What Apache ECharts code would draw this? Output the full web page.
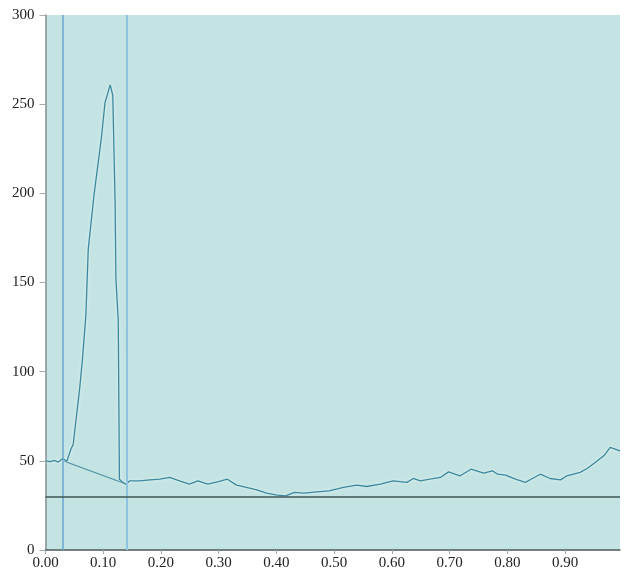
<!DOCTYPE html>
<html>
<head>
<meta charset="utf-8">
<script src="https://cdn.jsdelivr.net/npm/echarts@6/dist/echarts.min.js"></script>
<style>
  html, body { margin: 0; padding: 0; background: #ffffff; }
  #chart { width: 625px; height: 571px; }
</style>
</head>
<body>
<div id="chart"></div>
<script>
// Trace positions (fraction of run) and signal values
const traceX = [
  0.000, 0.008, 0.016, 0.022, 0.030, 0.037, 0.044, 0.048, 0.051, 0.059,
  0.064, 0.070, 0.074, 0.084, 0.097, 0.103, 0.112, 0.1165, 0.1205, 0.122,
  0.126, 0.128, 0.134, 0.1395, 0.146, 0.163, 0.181, 0.198, 0.215, 0.232,
  0.249, 0.264, 0.281, 0.298, 0.315, 0.331, 0.348, 0.366, 0.383, 0.401,
  0.416, 0.431, 0.448, 0.470, 0.491, 0.516, 0.539, 0.556, 0.580, 0.602,
  0.626, 0.637, 0.649, 0.666, 0.684, 0.698, 0.718, 0.737, 0.759, 0.774,
  0.783, 0.797, 0.814, 0.831, 0.841, 0.857, 0.874, 0.892, 0.903, 0.926,
  0.938, 0.952, 0.967, 0.978, 0.984, 0.995
];
const traceY = [
  50.0, 49.5, 50.2, 49.3, 51.3, 49.8, 56.5, 59.3, 67.7, 90.1,
  106.9, 132.0, 168.4, 199.0, 231.7, 250.7, 260.8, 255.0, 196.0, 151.6,
  129.0, 39.7, 37.9, 36.9, 38.8, 38.8, 39.3, 39.7, 40.7, 38.8,
  36.9, 38.8, 36.9, 38.2, 39.7, 36.4, 35.1, 33.7, 31.9, 30.8,
  30.4, 32.3, 31.9, 32.6, 33.2, 35.1, 36.4, 35.6, 36.9, 38.8,
  37.9, 40.1, 38.8, 39.7, 40.7, 43.8, 41.6, 45.3, 43.1, 44.4,
  42.5, 42.0, 39.7, 37.9, 39.7, 42.5, 40.1, 39.3, 41.6, 43.5,
  45.7, 49.1, 52.8, 57.5, 56.9, 55.6
];

// Integration limits and the baseline drawn between them
const limitX = [0.0326, 0.1395];
const baselineY = [49.8, 37.0];
// Horizontal threshold level
const thresholdY = 29.7;

// Axis tick labels
const xTicks = [0, 0.1, 0.2, 0.3, 0.4, 0.5, 0.6, 0.7, 0.8, 0.9];
const yTicks = [0, 50, 100, 150, 200, 250, 300];

const traceData = traceX.map((x, i) => [x, traceY[i]]);
const baselineData = limitX.map((x, i) => [x, baselineY[i]]);

const chart = echarts.init(document.getElementById('chart'));
const labelFont = { fontFamily: 'Liberation Serif', fontSize: 15, color: '#222' };

chart.setOption({
  animation: false,
  backgroundColor: '#ffffff',
  grid: {
    left: 45.5, right: 5, top: 15, bottom: 20,
    show: true, backgroundColor: '#c4e4e3', borderWidth: 0
  },
  xAxis: {
    type: 'value', min: 0, max: 0.995,
    axisLine: { show: true, onZero: false, lineStyle: { color: '#4d5a5a', width: 1.5 } },
    axisTick: { show: true, length: 4, customValues: xTicks, lineStyle: { color: '#9aa' } },
    axisLabel: Object.assign({
      customValues: xTicks, margin: 6,
      formatter: v => v.toFixed(2)
    }, labelFont),
    splitLine: { show: false }
  },
  yAxis: {
    type: 'value', min: 0, max: 300, interval: 50,
    axisLine: { show: true, onZero: false, lineStyle: { color: '#8a9090', width: 1.5 } },
    axisTick: { show: true, length: 6, customValues: yTicks, lineStyle: { color: '#aaa' } },
    axisLabel: Object.assign({ customValues: yTicks, margin: 11 }, labelFont),
    splitLine: { show: false }
  },
  series: [
    {
      type: 'line', name: 'limits', data: [], silent: true,
      markLine: {
        symbol: 'none', silent: true, label: { show: false },
        data: [
          { xAxis: limitX[0], lineStyle: { color: '#6aa7d0', width: 1.5, type: 'solid' } },
          { xAxis: limitX[1], lineStyle: { color: '#8ec4e2', width: 2, type: 'solid' } },
          { yAxis: thresholdY, lineStyle: { color: '#3e5656', width: 1.5, type: 'solid' } }
        ]
      }
    },
    {
      type: 'line', name: 'baseline', data: baselineData, symbol: 'none',
      lineStyle: { color: '#4f8fa3', width: 1.2 }
    },
    {
      type: 'line', name: 'trace', data: traceData, symbol: 'none',
      lineStyle: {
        color: '#3f879c', width: 1.3,
        shadowColor: 'rgba(240,255,255,0.8)', shadowBlur: 3
      }
    }
  ]
});
</script>
</body>
</html>
